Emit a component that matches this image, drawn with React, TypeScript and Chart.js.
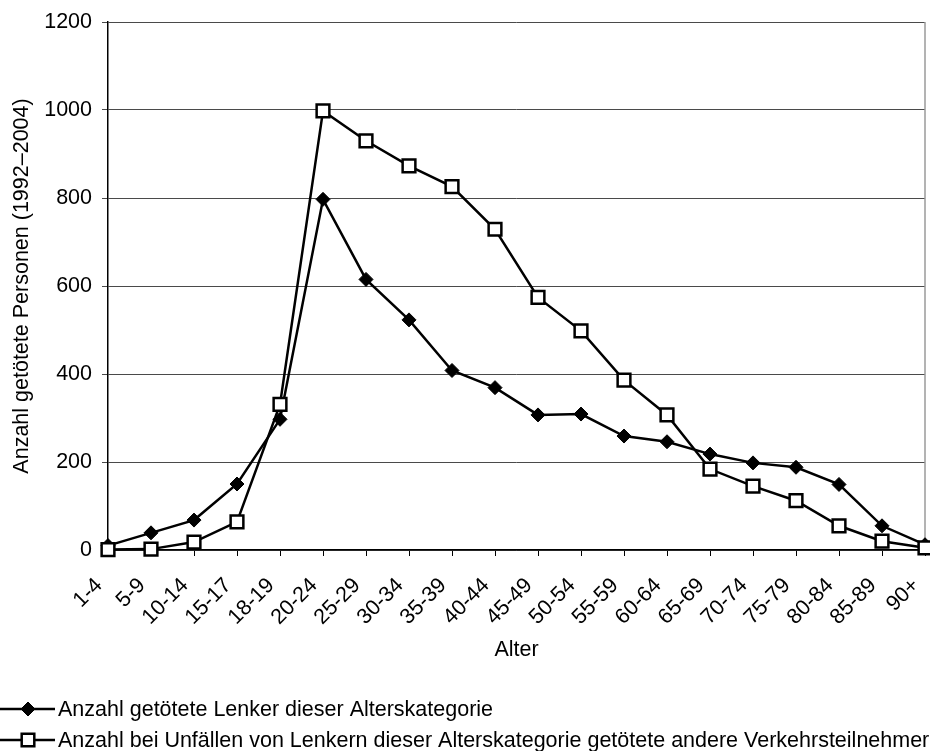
import React, { useEffect, useRef } from "react";
import { Chart, registerables } from "chart.js";

Chart.register(...registerables);

const ageGroups = [
  "1-4", "5-9", "10-14", "15-17", "18-19", "20-24", "25-29", "30-34", "35-39", "40-44",
  "45-49", "50-54", "55-59", "60-64", "65-69", "70-74", "75-79", "80-84", "85-89", "90+",
];

const driversKilled = [10, 39, 68, 150, 297, 797, 615, 523, 408, 369, 307, 309, 259, 246, 218, 198, 188, 149, 55, 12];
const othersKilled = [1, 2, 18, 64, 331, 998, 930, 873, 826, 729, 574, 498, 386, 307, 184, 145, 112, 55, 20, 5];

const seriesLabels = [
  "Anzahl getötete Lenker dieser Alterskategorie",
  "Anzahl bei Unfällen von Lenkern dieser Alterskategorie getötete andere Verkehrsteilnehmer",
];
const xTitle = "Alter";
const yTitle = "Anzahl getötete Personen (1992–2004)";
const yMin = 0;
const yMax = 1200;
const yStep = 200;

const FONT = "'Liberation Sans', Arial, sans-serif";
const FS = 21.5;

function drawMarker(ctx: CanvasRenderingContext2D, style: string, x: number, y: number) {
  ctx.save();
  ctx.lineWidth = style === "rect" ? 2.5 : 1;
  ctx.strokeStyle = "#000";
  ctx.beginPath();
  if (style === "rectRot") {
    const r = 7;
    ctx.moveTo(x - r, y);
    ctx.lineTo(x, y - r);
    ctx.lineTo(x + r, y);
    ctx.lineTo(x, y + r);
    ctx.closePath();
    ctx.fillStyle = "#000";
  } else {
    const h = 6.3;
    ctx.rect(x - h, y - h, 2 * h, 2 * h);
    ctx.fillStyle = "#fff";
  }
  ctx.fill();
  ctx.stroke();
  ctx.restore();
}

const frameAndLegend = {
  id: "frameAndLegend",
  beforeDatasetsDraw(chart: any) {
    const { ctx, chartArea } = chart;
    ctx.save();
    ctx.strokeStyle = "#9a9a9a";
    ctx.lineWidth = 1.5;
    ctx.beginPath();
    ctx.moveTo(chartArea.right, chartArea.top);
    ctx.lineTo(chartArea.right, chartArea.bottom);
    ctx.stroke();
    ctx.restore();
  },
  afterDraw(chart: any) {
    const { ctx } = chart;
    const rows = [709, 740];
    chart.data.datasets.forEach((ds: any, i: number) => {
      const y = rows[i];
      ctx.save();
      ctx.strokeStyle = "#000";
      ctx.lineWidth = 2.5;
      ctx.beginPath();
      ctx.moveTo(0, y);
      ctx.lineTo(55, y);
      ctx.stroke();
      ctx.restore();
      drawMarker(ctx, ds.pointStyle, 28, y);
      ctx.save();
      ctx.fillStyle = "#000";
      ctx.font = `${FS}px ${FONT}`;
      ctx.textBaseline = "middle";
      ctx.textAlign = "left";
      ctx.fillText(ds.label, 58, y + 1);
      ctx.restore();
    });
  },
};

export default function App() {
  const canvasRef = useRef<HTMLCanvasElement | null>(null);

  useEffect(() => {
    if (!canvasRef.current) return;
    const chart = new Chart(canvasRef.current, {
      type: "line",
      data: {
        labels: ageGroups,
        datasets: [
          {
            label: seriesLabels[0],
            data: driversKilled,
            borderColor: "#000",
            borderWidth: 2.5,
            pointStyle: "rectRot",
            pointRadius: 7,
            pointBorderWidth: 1,
            pointBackgroundColor: "#000",
            pointBorderColor: "#000",
            fill: false,
            tension: 0,
            clip: false as any,
            order: 1,
          },
          {
            label: seriesLabels[1],
            data: othersKilled,
            borderColor: "#000",
            borderWidth: 2.5,
            pointStyle: "rect",
            pointRadius: 9,
            pointBorderWidth: 2.5,
            pointBackgroundColor: "#fff",
            pointBorderColor: "#000",
            fill: false,
            tension: 0,
            clip: false as any,
            order: 0,
          },
        ],
      },
      options: {
        responsive: false,
        animation: false,
        devicePixelRatio: 1,
        layout: { autoPadding: false, padding: { top: 22, right: 5, bottom: 76, left: 0 } },
        plugins: {
          legend: { display: false },
          tooltip: { enabled: false },
        },
        scales: {
          x: {
            type: "category",
            offset: false,
            grid: {
              drawOnChartArea: false,
              drawTicks: true,
              tickLength: 6,
              color: "#000",
            },
            border: { display: true, color: "#000", width: 1.5 },
            ticks: {
              autoSkip: false,
              maxRotation: 45,
              minRotation: 45,
              padding: 17,
              labelOffset: -9,
              color: "#000",
              font: { family: FONT, size: FS },
            },
            title: {
              display: true,
              text: xTitle,
              color: "#000",
              font: { family: FONT, size: FS },
              padding: { top: 0, bottom: 12 },
            },
            afterFit(scale: any) {
              scale.height = 125;
              scale.paddingLeft = 0;
              scale.paddingRight = 0;
            },
          },
          y: {
            min: yMin,
            max: yMax,
            grid: {
              color: "#4a4a4a",
              lineWidth: 1,
              tickLength: 6,
            },
            border: { display: true, color: "#000", width: 1.5 },
            ticks: {
              stepSize: yStep,
              padding: 10,
              color: "#000",
              font: { family: FONT, size: FS },
              callback: (v: any) => String(v),
            },
            title: {
              display: true,
              text: yTitle,
              color: "#000",
              font: { family: FONT, size: FS },
              padding: { top: 9, bottom: 0 },
            },
            afterFit(scale: any) {
              scale.width = 108;
              scale.paddingTop = 0;
              scale.paddingBottom = 0;
            },
          },
        },
      },
      plugins: [frameAndLegend],
    } as any);
    return () => chart.destroy();
  }, []);

  return (
    <div style={{ position: "fixed", left: 0, top: 0, width: 930, height: 751, background: "#fff" }}>
      <canvas ref={canvasRef} width={930} height={751} style={{ display: "block" }} />
    </div>
  );
}
